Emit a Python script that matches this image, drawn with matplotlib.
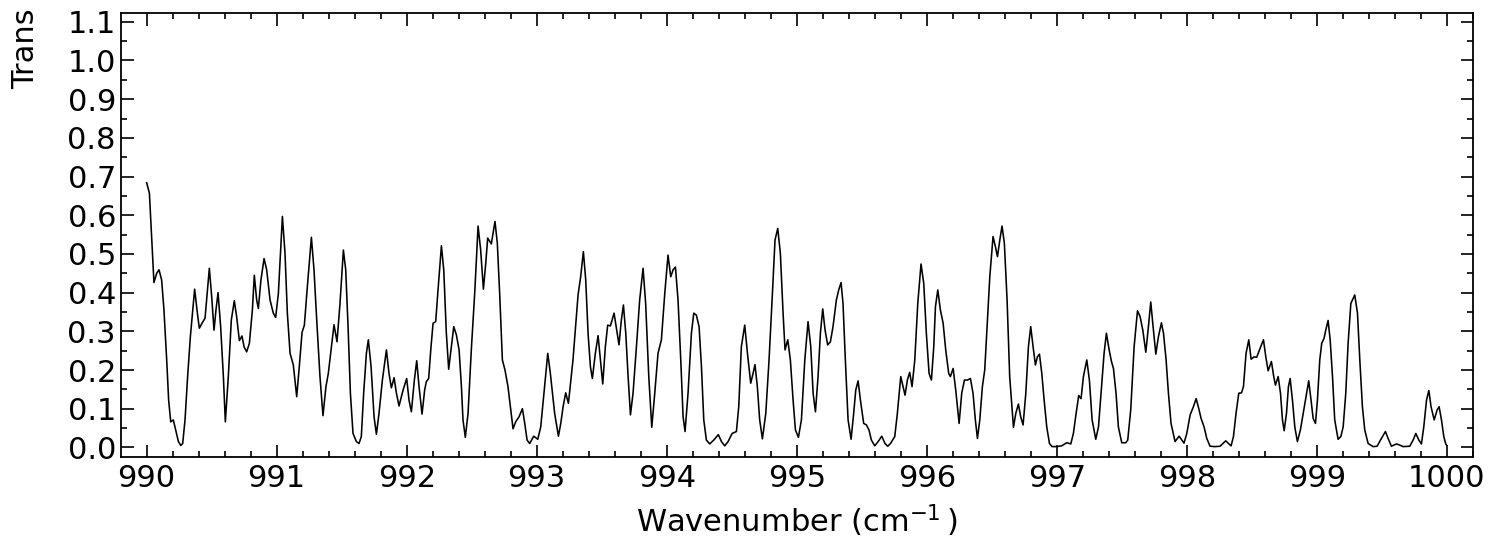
import matplotlib
matplotlib.use("Agg")
import matplotlib.pyplot as plt
from matplotlib.ticker import MultipleLocator

wavenumber = [
    990.000, 990.021, 990.038, 990.056, 990.077, 990.095, 990.115, 990.133, 990.154, 990.169,
    990.185, 990.205, 990.223, 990.244, 990.262, 990.277, 990.295, 990.315, 990.336, 990.369,
    990.390, 990.405, 990.426, 990.449, 990.482, 990.500, 990.518, 990.533, 990.549, 990.569,
    990.590, 990.605, 990.628, 990.651, 990.674, 990.692, 990.713, 990.733, 990.749, 990.769,
    990.790, 990.813, 990.828, 990.846, 990.859, 990.879, 990.903, 990.923, 990.949, 990.974,
    990.992, 991.013, 991.044, 991.064, 991.082, 991.103, 991.128, 991.154, 991.174, 991.195,
    991.213, 991.236, 991.267, 991.287, 991.308, 991.333, 991.356, 991.379, 991.397, 991.418,
    991.441, 991.464, 991.487, 991.513,
    991.531, 991.549, 991.567, 991.587, 991.613, 991.633, 991.651, 991.669, 991.690, 991.705,
    991.726, 991.749, 991.767, 991.787, 991.813, 991.844, 991.864, 991.882, 991.903, 991.921,
    991.941, 991.972, 992.000, 992.018, 992.036, 992.059, 992.077, 992.095, 992.118, 992.138,
    992.151, 992.169, 992.187, 992.203, 992.223, 992.241, 992.267, 992.285, 992.305, 992.323,
    992.344, 992.362, 992.382, 992.403, 992.421, 992.433, 992.451, 992.472, 992.497, 992.523,
    992.549, 992.569, 992.590, 992.608, 992.623, 992.651, 992.679, 992.697, 992.715, 992.736,
    992.756, 992.779, 992.800, 992.818, 992.838, 992.864, 992.890, 992.908, 992.926, 992.946,
    992.977, 993.008, 993.031, 993.056, 993.085, 993.105, 993.138, 993.167, 993.185, 993.203,
    993.223, 993.244,
    993.279, 993.318, 993.338, 993.359, 993.377, 993.395, 993.413, 993.428, 993.451, 993.472,
    993.490, 993.508, 993.528, 993.546, 993.567, 993.595, 993.615, 993.633, 993.651, 993.667,
    993.685, 993.703, 993.721, 993.741, 993.767, 993.792, 993.818, 993.838, 993.862, 993.885,
    993.908, 993.933, 993.959, 993.985, 994.010, 994.031, 994.049, 994.067, 994.087, 994.108,
    994.126, 994.141, 994.164, 994.190, 994.208, 994.228, 994.249, 994.267, 994.285, 994.305,
    994.331, 994.362, 994.397, 994.421, 994.446, 994.472, 994.503, 994.536, 994.554, 994.574,
    994.600, 994.621, 994.646, 994.664, 994.679, 994.697, 994.715, 994.736, 994.762, 994.787,
    994.813, 994.833, 994.854, 994.874, 994.895, 994.910, 994.931, 994.951, 994.972, 994.990,
    995.013, 995.036, 995.062,
    995.087, 995.108, 995.126, 995.144, 995.164, 995.182, 995.200, 995.218, 995.238, 995.259,
    995.279, 995.305, 995.323, 995.341, 995.356, 995.374, 995.395, 995.418, 995.438, 995.454,
    995.472, 995.490, 995.515, 995.536, 995.556, 995.574, 995.600, 995.626, 995.654, 995.679,
    995.700, 995.721, 995.754, 995.774, 995.800, 995.818, 995.833, 995.851, 995.869, 995.887,
    995.908, 995.931, 995.956, 995.977, 995.997, 996.018, 996.036, 996.054, 996.067, 996.085,
    996.105, 996.126, 996.146, 996.169, 996.182, 996.203, 996.223, 996.249, 996.269, 996.290,
    996.313, 996.336, 996.356, 996.374, 996.390, 996.408, 996.428, 996.446, 996.464, 996.485,
    996.510, 996.528, 996.544, 996.562, 996.579, 996.597, 996.618, 996.638, 996.667, 996.685,
    996.705, 996.723, 996.741, 996.762, 996.782, 996.800, 996.818, 996.836,
    996.851, 996.867, 996.885, 996.903, 996.923, 996.944, 996.964, 997.000, 997.038, 997.077,
    997.108, 997.128, 997.149, 997.169, 997.187, 997.205, 997.231, 997.251, 997.272, 997.300,
    997.321, 997.341, 997.364, 997.382, 997.403, 997.421, 997.436, 997.456, 997.474, 997.500,
    997.531, 997.546, 997.569, 997.595, 997.621, 997.641, 997.662, 997.685, 997.705, 997.723,
    997.741, 997.762, 997.782, 997.805, 997.821, 997.841, 997.859, 997.879, 997.910, 997.941,
    997.962, 997.979, 998.000, 998.026, 998.051, 998.072, 998.092, 998.110, 998.133, 998.154,
    998.179, 998.218, 998.256, 998.300, 998.321, 998.341, 998.359, 998.379, 998.400, 998.421,
    998.436, 998.456, 998.477, 998.495, 998.518, 998.538, 998.564,
    998.590, 998.608, 998.626, 998.651, 998.669, 998.682, 998.703, 998.721, 998.736, 998.749,
    998.767, 998.782, 998.795, 998.813, 998.831, 998.851, 998.874, 998.900, 998.921, 998.938,
    998.956, 998.972, 998.990, 999.005, 999.023, 999.038, 999.056, 999.069, 999.087, 999.103,
    999.121, 999.138, 999.164, 999.185, 999.203, 999.223, 999.241, 999.262, 999.292, 999.313,
    999.331, 999.351, 999.369, 999.395, 999.433, 999.464, 999.490, 999.528, 999.549, 999.574,
    999.613, 999.638, 999.664, 999.715, 999.741, 999.762, 999.785, 999.805, 999.823, 999.844,
    999.862, 999.879, 999.903, 999.926, 999.941, 999.959, 999.977, 999.992, 1000.000,
]

transmission = [
    0.684, 0.657, 0.545, 0.426, 0.450, 0.459, 0.433, 0.355, 0.226, 0.122,
    0.066, 0.071, 0.045, 0.015, 0.005, 0.010, 0.071, 0.183, 0.286, 0.409,
    0.347, 0.308, 0.321, 0.334, 0.463, 0.390, 0.303, 0.355, 0.400, 0.312,
    0.183, 0.066, 0.183, 0.329, 0.379, 0.338, 0.276, 0.288, 0.260, 0.247,
    0.269, 0.355, 0.445, 0.381, 0.359, 0.433, 0.488, 0.459, 0.381, 0.347,
    0.336, 0.398, 0.597, 0.502, 0.347, 0.243, 0.213, 0.131, 0.209, 0.297,
    0.316, 0.416, 0.543, 0.459, 0.329, 0.183, 0.082, 0.157, 0.191, 0.252,
    0.317, 0.273, 0.372, 0.510,
    0.459, 0.312, 0.140, 0.036, 0.015, 0.010, 0.028, 0.140, 0.243, 0.278,
    0.209, 0.079, 0.034, 0.088, 0.174, 0.252, 0.191, 0.154, 0.180, 0.140,
    0.107, 0.148, 0.178, 0.122, 0.092, 0.174, 0.224, 0.157, 0.086, 0.148,
    0.170, 0.178, 0.260, 0.321, 0.325, 0.407, 0.521, 0.459, 0.295, 0.202,
    0.260, 0.312, 0.291, 0.252, 0.157, 0.071, 0.026, 0.088, 0.252, 0.398,
    0.572, 0.510, 0.409, 0.476, 0.541, 0.526, 0.584, 0.528, 0.398, 0.226,
    0.200, 0.157, 0.097, 0.048, 0.066, 0.079, 0.100, 0.062, 0.019, 0.010,
    0.029, 0.021, 0.053, 0.140, 0.243, 0.191, 0.088, 0.029, 0.062, 0.105,
    0.141, 0.114,
    0.226, 0.394, 0.441, 0.506, 0.433, 0.295, 0.209, 0.178, 0.243, 0.289,
    0.226, 0.164, 0.260, 0.316, 0.314, 0.347, 0.303, 0.265, 0.329, 0.368,
    0.295, 0.183, 0.084, 0.140, 0.260, 0.381, 0.463, 0.372, 0.183, 0.052,
    0.140, 0.243, 0.278, 0.398, 0.497, 0.441, 0.459, 0.466, 0.381, 0.226,
    0.079, 0.041, 0.140, 0.295, 0.347, 0.342, 0.312, 0.209, 0.071, 0.019,
    0.009, 0.019, 0.033, 0.015, 0.004, 0.015, 0.036, 0.041, 0.105, 0.260,
    0.316, 0.243, 0.166, 0.191, 0.214, 0.157, 0.071, 0.022, 0.088, 0.226,
    0.398, 0.536, 0.566, 0.502, 0.347, 0.252, 0.278, 0.226, 0.122, 0.045,
    0.026, 0.071, 0.226,
    0.325, 0.260, 0.140, 0.092, 0.183, 0.295, 0.358, 0.303, 0.265, 0.273,
    0.312, 0.381, 0.407, 0.426, 0.372, 0.226, 0.071, 0.021, 0.088, 0.148,
    0.172, 0.122, 0.062, 0.058, 0.045, 0.019, 0.004, 0.015, 0.029, 0.010,
    0.003, 0.010, 0.028, 0.088, 0.183, 0.157, 0.135, 0.174, 0.194, 0.157,
    0.226, 0.372, 0.474, 0.424, 0.295, 0.191, 0.174, 0.260, 0.364, 0.407,
    0.355, 0.321, 0.252, 0.191, 0.183, 0.204, 0.148, 0.062, 0.140, 0.174,
    0.174, 0.178, 0.140, 0.071, 0.023, 0.071, 0.157, 0.200, 0.312, 0.441,
    0.545, 0.519, 0.493, 0.536, 0.572, 0.528, 0.381, 0.183, 0.052, 0.088,
    0.112, 0.079, 0.058, 0.140, 0.260, 0.312, 0.260, 0.213,
    0.234, 0.241, 0.191, 0.122, 0.053, 0.010, 0.002, 0.002, 0.004, 0.012,
    0.009, 0.036, 0.088, 0.134, 0.126, 0.183, 0.226, 0.174, 0.071, 0.021,
    0.053, 0.140, 0.243, 0.295, 0.252, 0.222, 0.204, 0.140, 0.053, 0.012,
    0.012, 0.019, 0.097, 0.260, 0.353, 0.338, 0.303, 0.246, 0.312, 0.376,
    0.312, 0.241, 0.286, 0.322, 0.295, 0.226, 0.140, 0.062, 0.015, 0.029,
    0.019, 0.011, 0.036, 0.084, 0.105, 0.126, 0.101, 0.075, 0.053, 0.023,
    0.003, 0.002, 0.003, 0.017, 0.010, 0.004, 0.028, 0.088, 0.140, 0.141,
    0.157, 0.243, 0.278, 0.228, 0.234, 0.233, 0.256,
    0.278, 0.234, 0.198, 0.222, 0.183, 0.161, 0.183, 0.140, 0.071, 0.043,
    0.088, 0.157, 0.178, 0.122, 0.053, 0.015, 0.045, 0.097, 0.140, 0.172,
    0.122, 0.075, 0.062, 0.122, 0.226, 0.269, 0.282, 0.303, 0.328, 0.278,
    0.183, 0.071, 0.021, 0.028, 0.053, 0.140, 0.269, 0.372, 0.394, 0.347,
    0.226, 0.105, 0.045, 0.010, 0.002, 0.003, 0.019, 0.041, 0.023, 0.003,
    0.009, 0.006, 0.002, 0.003, 0.019, 0.036, 0.019, 0.009, 0.053, 0.122,
    0.147, 0.105, 0.071, 0.097, 0.105, 0.071, 0.028, 0.009, 0.005,
]

x_ticks = [990, 991, 992, 993, 994, 995, 996, 997, 998, 999, 1000]
y_ticks = [0.0, 0.1, 0.2, 0.3, 0.4, 0.5, 0.6, 0.7, 0.8, 0.9, 1.0, 1.1]

fig = plt.figure(figsize=(14.92, 5.40), dpi=100)
ax = fig.add_axes([0.0814, 0.1543, 0.9059, 0.8211])

ax.plot(wavenumber, transmission, color="black", linewidth=1.15)

ax.set_xlim(989.806, 1000.202)
ax.set_ylim(-0.024, 1.122)
ax.set_xticks(x_ticks)
ax.set_xticklabels([str(t) for t in x_ticks])
ax.set_yticks(y_ticks)
ax.set_yticklabels([f"{t:.1f}" for t in y_ticks])
ax.xaxis.set_minor_locator(MultipleLocator(0.2))
ax.yaxis.set_minor_locator(MultipleLocator(0.05))

ax.tick_params(which="both", direction="in", top=True, right=True, labelsize=22, width=1.2)
ax.tick_params(which="major", length=9)
ax.tick_params(which="minor", length=4)
ax.tick_params(axis="x", which="major", pad=5)
ax.tick_params(axis="y", which="major", pad=4)
for sp in ax.spines.values():
    sp.set_linewidth(1.3)

ax.set_xlabel("Wavenumber (cm$^{-1}\\,$)", fontsize=22, labelpad=7)
fig.text(0.0174, 1 - 89 / 540, "Trans", rotation=90, ha="center", va="bottom", fontsize=22)

fig.savefig("out.png", dpi=100)
